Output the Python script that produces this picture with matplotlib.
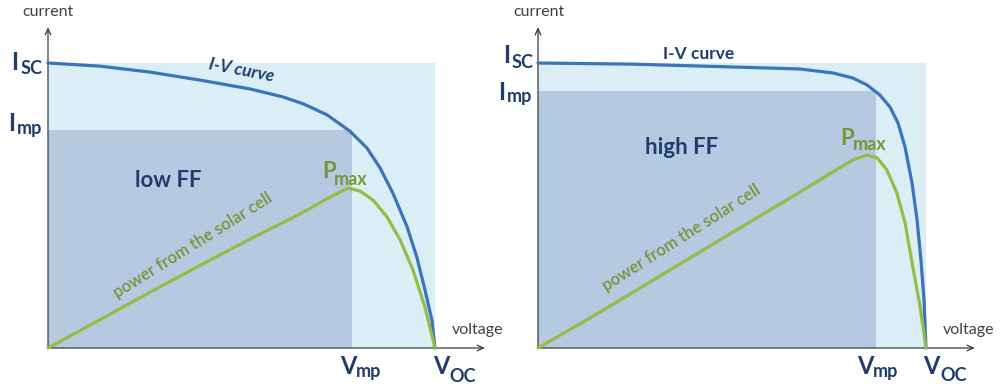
import matplotlib.pyplot as plt
from matplotlib.patches import Rectangle

plt.rcParams['font.family'] = ['Lato', 'DejaVu Sans']

# values normalised so that Voc = 1 and Isc = 1
low_iv_v = [0, 0.134, 0.264, 0.393, 0.522, 0.607, 0.661, 0.721, 0.780, 0.824, 0.858, 0.891, 0.928, 0.953, 0.974, 0.992, 1.0]
low_iv_i = [1.0, 0.989, 0.968, 0.940, 0.909, 0.881, 0.856, 0.818, 0.761, 0.702, 0.632, 0.544, 0.425, 0.319, 0.204, 0.098, 0.0]
low_p_v = [0, 0.134, 0.264, 0.393, 0.522, 0.651, 0.721, 0.775, 0.806, 0.840, 0.876, 0.910, 0.943, 0.974, 1.0]
low_p = [0, 0.099, 0.196, 0.290, 0.382, 0.470, 0.524, 0.561, 0.551, 0.519, 0.460, 0.379, 0.274, 0.144, 0.0]
low_vmp, low_imp = 0.786, 0.765

high_iv_v = [0, 0.245, 0.503, 0.675, 0.760, 0.812, 0.848, 0.881, 0.907, 0.928, 0.946, 0.964, 0.977, 0.987, 0.995, 1.0]
high_iv_i = [1.0, 0.996, 0.986, 0.979, 0.965, 0.947, 0.923, 0.888, 0.846, 0.789, 0.705, 0.579, 0.449, 0.309, 0.168, 0.0]
high_p_v = [0, 0.160, 0.332, 0.503, 0.675, 0.760, 0.812, 0.848, 0.874, 0.899, 0.925, 0.946, 0.966, 0.985, 1.0]
high_p = [0, 0.126, 0.267, 0.407, 0.547, 0.618, 0.660, 0.677, 0.667, 0.625, 0.544, 0.439, 0.284, 0.144, 0.0]
high_vmp, high_imp = 0.871, 0.902

LIGHT = '#dbeef6'
DARK = '#b5c9e1'
BLUE = '#3a74b9'
GREEN = '#93bd45'
NAVY = '#1f3d6c'
GTEXT = '#77953a'
AXC = '#3a3a3a'


def sub_label(ax, main, sub, xm, ym, xs, ys, ha, color, sm=17, ss=13):
    ax.text(xm, ym, main, ha=ha, va='baseline', fontsize=sm, fontweight='bold', color=color)
    ax.text(xs, ys, sub, ha='left', va='baseline', fontsize=ss, fontweight='bold', color=color)


def panel(ax, iv_v, iv_i, p_v, p_p, vmp, imp, lay):
    # rectangles Isc x Voc and Imp x Vmp
    ax.add_patch(Rectangle((0, 0), iv_v[-1], iv_i[0], color=LIGHT, lw=0, zorder=1))
    ax.add_patch(Rectangle((0, 0), vmp, imp, color=DARK, lw=0, zorder=2))

    ax.plot(iv_v, iv_i, color=BLUE, lw=2.3, zorder=4, solid_joinstyle='round', solid_capstyle='round')
    ax.plot(p_v, p_p, color=GREEN, lw=2.3, zorder=4, solid_joinstyle='round', solid_capstyle='round')

    # axes with arrows
    arr = dict(arrowstyle='->,head_length=0.45,head_width=0.2', color=AXC, lw=0.9, shrinkA=0, shrinkB=0)
    ax.annotate('', xy=(lay['xend'], 0), xytext=(0, 0), arrowprops=arr, zorder=3)
    ax.annotate('', xy=(0, 1.126), xytext=(0, 0), arrowprops=arr, zorder=3)

    ax.text(lay['cur'], 1.179, 'current', ha='center', va='center', fontsize=11.5, color='#404040')
    ax.text(1.044, 0.063, 'voltage', ha='left', va='center', fontsize=11.5, color='#404040')

    sub_label(ax, 'I', 'SC', *lay['isc'], ha='right', color=NAVY)
    sub_label(ax, 'I', 'mp', *lay['imp'], ha='right', color=NAVY)
    sub_label(ax, 'V', 'mp', *lay['vmp'], ha='left', color=NAVY)
    sub_label(ax, 'V', 'OC', *lay['voc'], ha='left', color=NAVY)
    sub_label(ax, 'P', 'max', *lay['pmax'], ha='left', color=GTEXT, sm=16, ss=13)

    ax.text(*lay['ff'], lay['ff_text'], ha='center', va='center', fontsize=16,
            fontweight='bold', color=NAVY, zorder=5)
    ax.text(*lay['pw'], 'power from the solar cell', ha='center', va='center', fontsize=12,
            fontweight='semibold', color=GTEXT, rotation=lay['pw_rot'], rotation_mode='anchor', zorder=5)
    ax.text(*lay['iv'], 'I-V curve', ha='center', va='center', fontsize=lay['iv_size'],
            fontweight='bold', fontstyle=lay['iv_style'], color=NAVY, rotation=lay['iv_rot'],
            rotation_mode='anchor', zorder=5)

    ax.set_xlim(-lay['ox'] / lay['sx'], (lay['w'] - lay['ox']) / lay['sx'])
    ax.set_ylim(-42 / 285, 348 / 285)
    ax.axis('off')


fig = plt.figure(figsize=(10.02, 3.9), dpi=100)
ax1 = fig.add_axes([0, 0, 500 / 1002, 1])
ax2 = fig.add_axes([500 / 1002, 0, 502 / 1002, 1])

low_lay = dict(ox=48, sx=387, w=500, xend=1.129, cur=0.0,
               isc=(-0.078, 0.975, -0.072, 0.961), imp=(-0.085, 0.761, -0.080, 0.751),
               vmp=(0.755, -0.091, 0.796, -0.102), voc=(0.995, -0.091, 1.036, -0.119),
               pmax=(0.708, 0.596, 0.739, 0.572),
               ff=(0.310, 0.586), ff_text='low FF', pw=(0.375, 0.360), pw_rot=32,
               iv=(0.499, 0.975), iv_rot=-11, iv_size=12.5, iv_style='italic')
high_lay = dict(ox=38, sx=388, w=502, xend=1.126, cur=0.003,
                isc=(-0.072, 1.0, -0.067, 0.982), imp=(-0.085, 0.870, -0.080, 0.863),
                vmp=(0.822, -0.091, 0.863, -0.102), voc=(0.992, -0.091, 1.036, -0.116),
                pmax=(0.778, 0.712, 0.812, 0.695),
                ff=(0.369, 0.702), ff_text='high FF', pw=(0.369, 0.388), pw_rot=32.4,
                iv=(0.415, 1.032), iv_rot=0, iv_size=12.5, iv_style='normal')

panel(ax1, low_iv_v, low_iv_i, low_p_v, low_p, low_vmp, low_imp, low_lay)
panel(ax2, high_iv_v, high_iv_i, high_p_v, high_p, high_vmp, high_imp, high_lay)

fig.savefig('out.png', dpi=100)
